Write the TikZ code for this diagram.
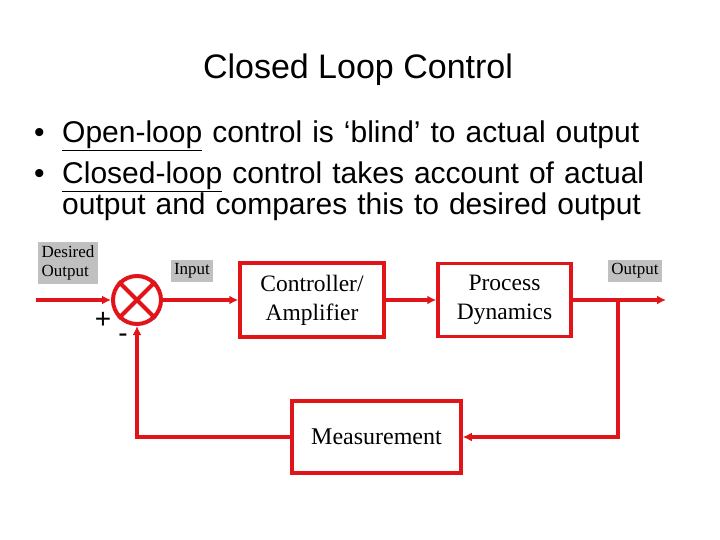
\documentclass[tikz,border=0pt]{standalone}
\usepackage{fontspec}
\setmainfont{Liberation Serif}
\newfontfamily\arial{Liberation Sans}
\usetikzlibrary{arrows.meta}
\definecolor{lred}{RGB}{225,20,25}
\definecolor{lgray}{RGB}{192,192,192}
\tikzset{
  blk/.style={draw=lred,line width=3.5pt,fill=white,inner sep=0pt},
  lbl/.style={fill=lgray,inner sep=3.5pt,font=\fontsize{17}{19}\selectfont,align=left},
  wire/.style={draw=lred,line width=4pt,-{Latex[length=9pt,width=9pt]}},
}
\begin{document}
\begin{tikzpicture}[x=1pt,y=-1pt]
\useasboundingbox (0,0) rectangle (720,540);
\node[font=\arial\fontsize{34}{36}\selectfont] (title) at (358,70) {Closed Loop Control};
\node[anchor=north west,font=\arial\fontsize{30}{31}\selectfont,align=left,text width=680pt,inner sep=0pt] (bul) at (34,121)
 {\makebox[28pt][l]{\textbullet}\underline{Open-loop} control is ‘blind’ to actual output\\[10pt]
  \makebox[28pt][l]{\textbullet}\underline{Closed-loop} control takes account of actual\\
  \hspace*{28pt}output and compares this to desired output};
\node[draw=lred,line width=4pt,circle,minimum size=48pt,inner sep=0pt] (sum) at (137,300) {};
\draw[lred,line width=4pt] (sum.45) -- (sum.225) (sum.135) -- (sum.315);
\node[blk,minimum width=144pt,minimum height=74pt,align=center,font=\fontsize{23.5}{29}\selectfont] (ctrl) at (312,300) {Controller/\\Amplifier};
\node[blk,minimum width=133pt,minimum height=73pt,align=center,font=\fontsize{23.5}{29}\selectfont] (proc) at (504.5,300) {Process\\Dynamics};
\node[blk,minimum width=169pt,minimum height=72pt,font=\fontsize{24}{26}\selectfont] (meas) at (376.5,437) {Measurement};
\node[lbl] (des) at (68,263) {Desired\\Output};
\node[lbl] (inp) at (192,271) {Input};
\node[lbl] (out) at (635,271) {Output};
\node[font=\arial\fontsize{28}{28}\selectfont] (plus) at (103,320) {+};
\node[font=\arial\fontsize{28}{28}\selectfont] (minus) at (123,338) {-};
\coordinate (start) at (36,300);
\coordinate (end) at (666,300);
\coordinate (br) at (618,300);
\coordinate (brd) at (618,437);
\coordinate (fb) at (137,437);
\draw[wire] (start) -- (sum.west);
\draw[wire] (sum.east) -- (ctrl.west);
\draw[wire] (ctrl.east) -- (proc.west);
\draw[wire] (proc.east) -- (end);
\draw[wire] (br) -- (brd) -- (meas.east);
\draw[wire] (meas.west) -- (fb) -- (sum.south);
\end{tikzpicture}
\end{document}
